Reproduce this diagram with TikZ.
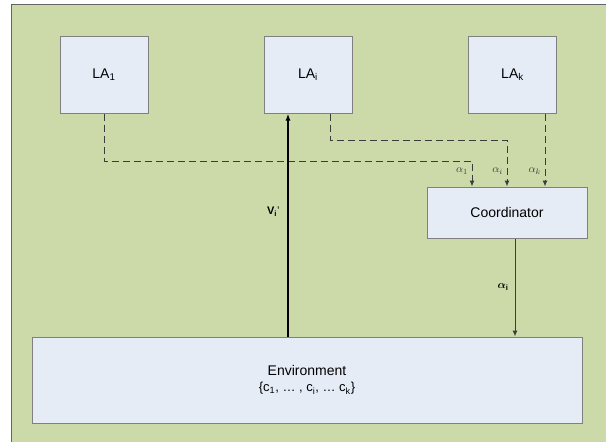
\documentclass[tikz,border=0pt]{standalone}
\usepackage{amsmath}
\usepackage{fontspec}
\setmainfont{Liberation Sans}
\usetikzlibrary{arrows.meta}
\definecolor{bggreen}{RGB}{204,218,170}
\definecolor{boxblue}{RGB}{230,236,246}
\definecolor{boxline}{RGB}{128,128,128}
\definecolor{frameline}{RGB}{100,100,100}
\definecolor{msgline}{RGB}{60,60,60}
\tikzset{
    agent/.style = {rectangle, minimum width=88pt, minimum height=77pt, text centered, draw=boxline, fill=boxblue, line width=1pt, font=\fontsize{14}{16}\selectfont},
    coordbox/.style = {rectangle, minimum width=160pt, minimum height=51pt, text centered, draw=boxline, fill=boxblue, line width=1pt, font=\fontsize{14}{16}\selectfont},
    envbox/.style = {rectangle, minimum width=550pt, minimum height=86pt, align=center, draw=boxline, fill=boxblue, line width=1pt, font=\fontsize{14}{17}\selectfont},
    msg/.style = {draw=msgline, line width=1pt, dash pattern=on 7pt off 4pt, -{Latex[length=6pt,width=5pt]}},
    feedback/.style = {draw=black, line width=1.8pt, -{Latex[length=7pt,width=5pt]}},
    action/.style = {draw=msgline, line width=1pt, -{Latex[length=6pt,width=5pt]}},
    lbl/.style = {text=msgline, font=\fontsize{11}{12}\selectfont, anchor=east, inner sep=1pt}
}
\begin{document}
\begin{tikzpicture}[x=1pt,y=-1pt]
\useasboundingbox (0,0) rectangle (606,442);
\fill[white] (0,0) rectangle (606,442);
\draw[fill=bggreen, draw=frameline, line width=1.2pt] (11.5,4.5) rectangle (620,460);

\node (la1) [agent] at (104,74.5) {LA\textsubscript{1}};
\node (lai) [agent] at (308,74.5) {LA\textsubscript{i}};
\node (lak) [agent] at (512.5,74.5) {LA\textsubscript{k}};
\node (coord) [coordbox] at (507,212.5) {Coordinator};
\node (env) [envbox] at (307,380) {Environment\\[-1pt]{\fontsize{13}{15}\selectfont\{c\textsubscript{1}, \dots\ , c\textsubscript{i}, \dots\ c\textsubscript{k}\}}};

% messages from the agents
\coordinate (b1) at (472,161);
\coordinate (bi) at (507,140);
\draw [msg] (la1.south) |- (b1) -- ([xshift=-35pt]coord.north);
\draw [msg] ([xshift=22pt]lai.south) |- (bi) -- (coord.north);
\draw [msg] ([xshift=32.5pt]lak.south) -- ([xshift=38pt]coord.north);
\node [lbl] at (469,171) {$\alpha_1$};
\node [lbl] at (504,171) {$\alpha_i$};
\node [lbl] at (542,171) {$\alpha_k$};

% feedback and action
\draw [feedback] ([xshift=-19pt]env.north) -- ([xshift=-20pt]lai.south);
\node [anchor=east, font=\fontsize{11}{12}\selectfont] at (283,212) {$\mathbf{V_i}$'};
\draw [action] ([xshift=8pt]coord.south) -- ([xshift=208pt]env.north);
\node [anchor=east, font=\fontsize{11}{12}\selectfont] at (512,287) {$\boldsymbol{\alpha}_{\mathbf{i}}$};
\end{tikzpicture}
\end{document}
